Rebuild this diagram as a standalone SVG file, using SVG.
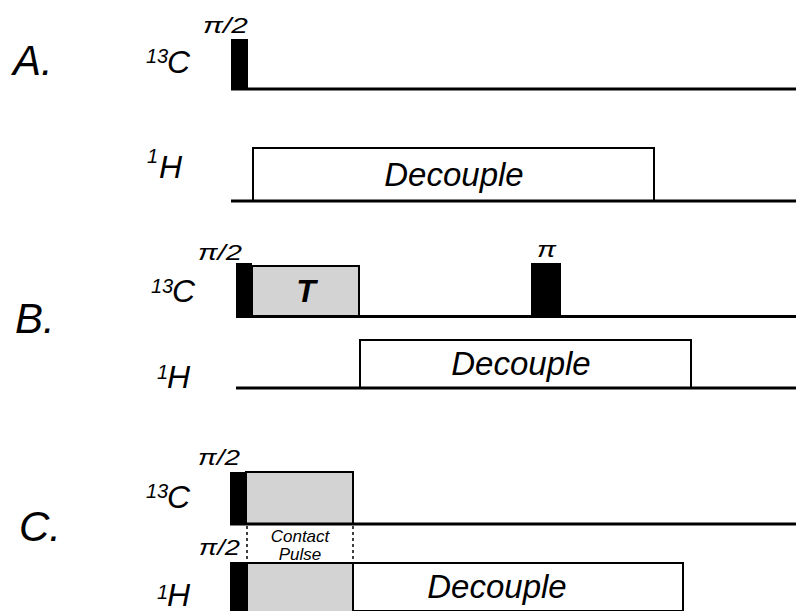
<svg xmlns="http://www.w3.org/2000/svg" width="796" height="611" viewBox="0 0 796 611">
<style>
text{font-family:"Liberation Sans",Arial,Helvetica,sans-serif;font-style:italic;fill:#000}
.panel{font-size:42px}
.iso{font-size:32px}
.sup{font-size:20px}
.ang{font-size:22px}
.dec{font-size:33px;text-anchor:middle}
.small{font-size:17px;text-anchor:middle}
.base{stroke:#000;stroke-width:3;fill:none}
.pulse{fill:#000;stroke:none}
.gray{fill:#d3d3d3;stroke:#000;stroke-width:2}
.box{fill:#fff;stroke:#000;stroke-width:2}
.dot{stroke:#000;stroke-width:1.5;stroke-dasharray:3,3;fill:none}
</style>
<rect width="796" height="611" fill="#fff"/>

<!-- Panel A -->
<g id="labelA"><text class="panel" x="13" y="75">A.</text></g>
<g id="A-13C-label"><text class="sup" x="146" y="63">13</text><text class="iso" x="167" y="73">C</text></g>
<g id="A-1H-label"><text class="sup" x="147" y="163">1</text><text class="iso" x="159" y="178">H</text></g>
<g id="A-decouple">
  <rect class="box" x="253" y="148" width="401" height="53"/>
  <text class="dec" x="454" y="186">Decouple</text>
</g>
<g id="A-pulse90">
  <rect class="pulse" x="231" y="39" width="17" height="51"/>
  <text class="ang" x="203" y="33" textLength="45" lengthAdjust="spacingAndGlyphs">π/2</text>
</g>

<!-- Panel B -->
<g id="labelB"><text class="panel" x="15" y="333">B.</text></g>
<g id="B-13C-label"><text class="sup" x="151" y="293">13</text><text class="iso" x="172" y="302">C</text></g>
<g id="B-1H-label"><text class="sup" x="157" y="379">1</text><text class="iso" x="167" y="388">H</text></g>
<g id="B-T">
  <rect class="gray" x="252" y="266" width="107" height="51"/>
  <text x="306" y="302" style="font-size:32px;font-weight:bold;text-anchor:middle">T</text>
</g>
<g id="B-pulse90">
  <rect class="pulse" x="236" y="263" width="16" height="55"/>
  <text class="ang" x="198" y="260" textLength="44" lengthAdjust="spacingAndGlyphs">π/2</text>
</g>
<g id="B-pulse180">
  <rect class="pulse" x="531" y="263" width="30" height="54"/>
  <text class="ang" x="537" y="257" textLength="19" lengthAdjust="spacingAndGlyphs">π</text>
</g>
<g id="B-decouple">
  <rect class="box" x="360" y="340" width="331" height="48"/>
  <text class="dec" x="521" y="375">Decouple</text>
</g>

<!-- Panel C -->
<g id="labelC"><text class="panel" x="19" y="541">C.</text></g>
<g id="C-13C-label"><text class="sup" x="146" y="498">13</text><text class="iso" x="167" y="508">C</text></g>
<g id="C-1H-label"><text class="sup" x="157" y="599">1</text><text class="iso" x="167" y="606">H</text></g>
<g id="C-13C-contact">
  <rect class="gray" x="246" y="472" width="107" height="52"/>
</g>
<g id="C-13C-pulse90">
  <rect class="pulse" x="230" y="472" width="16" height="52"/>
  <text class="ang" x="198" y="465" textLength="42" lengthAdjust="spacingAndGlyphs">π/2</text>
</g>
<g id="C-contact-label">
  <text class="small" x="300" y="542">Contact</text>
  <text class="small" x="300" y="560">Pulse</text>
</g>
<g id="C-1H-decouple">
  <rect class="box" x="353" y="563" width="330" height="48"/>
  <text class="dec" x="497" y="598">Decouple</text>
</g>
<g id="C-1H-contact">
  <rect class="gray" x="247" y="563" width="106" height="52"/>
</g>
<g id="C-1H-pulse90">
  <rect class="pulse" x="230" y="562" width="17" height="50"/>
  <text class="ang" x="199" y="555" textLength="41" lengthAdjust="spacingAndGlyphs">π/2</text>
</g>

<!-- Connectors: channel baselines and guides -->
<g id="connectors">
  <line class="base" x1="231" y1="89" x2="796" y2="89"/>
  <line class="base" x1="231" y1="201" x2="796" y2="201"/>
  <line class="base" x1="236" y1="316.5" x2="796" y2="316.5"/>
  <line class="base" x1="236" y1="388" x2="796" y2="388"/>
  <line class="base" x1="230" y1="524" x2="796" y2="524"/>
  <line class="dot" x1="247" y1="526" x2="247" y2="562"/>
  <line class="dot" x1="353" y1="526" x2="353" y2="562"/>
</g>
</svg>
